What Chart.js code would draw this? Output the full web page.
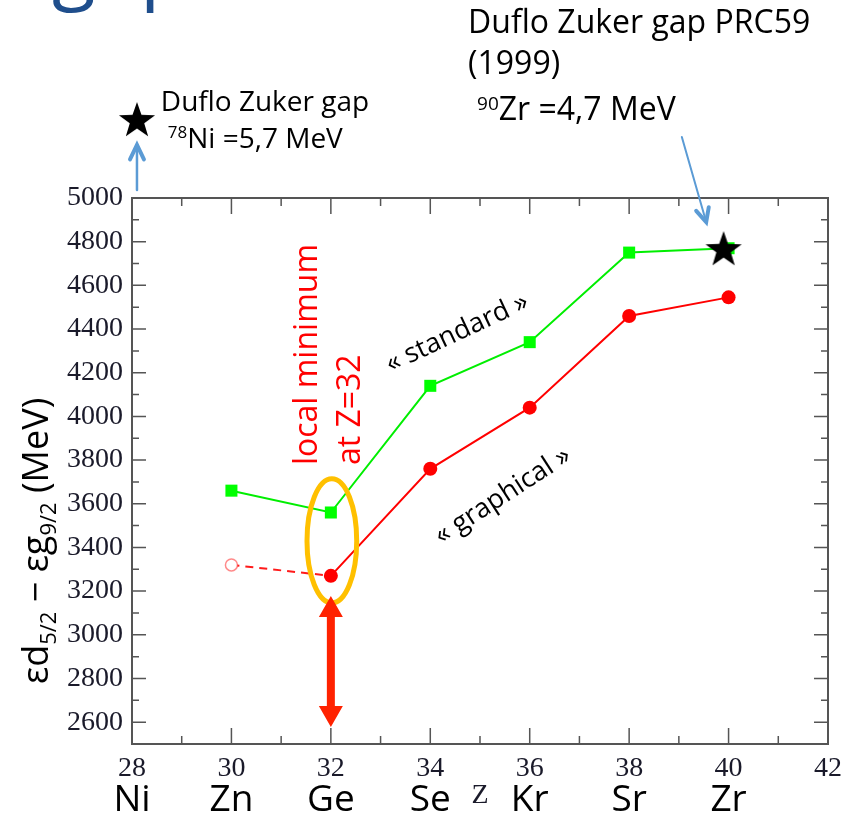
<!DOCTYPE html>
<html>
<head>
<meta charset="utf-8">
<script src="https://cdn.jsdelivr.net/npm/chart.js@4/dist/chart.umd.min.js"></script>
<style>
  html, body { margin: 0; padding: 0; background: #fff; overflow: hidden; }
  #wrap { width: 853px; height: 819px; position: relative; }
</style>
</head>
<body>
<div id="wrap"><canvas id="c" width="853" height="819"></canvas></div>
<script>
// εd5/2 − εg9/2 のギャップ — Z依存
// 横軸: 陽子数Z / 縦軸: ギャップ

const Z_VALUES  = [30, 32, 34, 36, 38, 40];
const STANDARD  = [3660, 3560, 4140, 4340, 4750, 4770];   // « standard » (緑)
const GRAPHICAL = [3320, 3270, 3760, 4040, 4460, 4545];   // « graphical » (赤), Z=30は外挿(白抜き)

// Duflo Zuker の星印 (Ni側は枠外)
const STAR_Z   = [28.1, 39.9];
const STAR_GAP = [5357, 4766];

// 軸の目盛り
const X_TICKS = [28, 30, 32, 34, 36, 38, 40, 42];
const X_MINOR = [29, 31, 33, 35, 37, 39, 41];
const Y_TICKS = [2600, 2800, 3000, 3200, 3400, 3600, 3800, 4000, 4200, 4400, 4600, 4800, 5000];
const Y_MINOR = [2700, 2900, 3100, 3300, 3500, 3700, 3900, 4100, 4300, 4500, 4700, 4900];

// 元素記号 (偶数Zの下に並べる)
const ELEMENT_Z = [28, 30, 32, 34, 36, 38, 40];
const ELEMENTS  = ['Ni', 'Zn', 'Ge', 'Se', 'Kr', 'Sr', 'Zr'];

const SANS  = '"Open Sans", "Noto Sans", sans-serif';
const SERIF = '"Liberation Serif", serif';

// 塗りつぶしの五芒星(Chart.jsの'star'は線なので自前の画像にする)
function makeStar(size) {
  const cv = document.createElement('canvas');
  cv.width = size; cv.height = size;
  const g = cv.getContext('2d');
  const R = size / 2, r = R * 0.4;
  g.beginPath();
  for (let i = 0; i < 10; i++) {
    const rad = (i % 2 === 0) ? R : r;
    const a = -Math.PI / 2 + i * Math.PI / 5;
    const px = R + rad * Math.cos(a), py = R + 1 + rad * Math.sin(a);
    if (i === 0) g.moveTo(px, py); else g.lineTo(px, py);
  }
  g.closePath();
  g.fillStyle = '#000';
  g.fill();
  return cv;
}
const STAR_IMG = makeStar(38);

// 矢印(線+V字の頭)
function vArrow(ctx, x0, y0, x1, y1, head, lw, hw, color) {
  const a = Math.atan2(y1 - y0, x1 - x0);
  ctx.strokeStyle = color;
  ctx.lineCap = 'round';
  ctx.lineWidth = lw;
  ctx.beginPath(); ctx.moveTo(x0, y0); ctx.lineTo(x1, y1); ctx.stroke();
  ctx.lineWidth = hw;
  ctx.beginPath();
  ctx.moveTo(x1 - head * Math.cos(a - 0.45), y1 - head * Math.sin(a - 0.45));
  ctx.lineTo(x1, y1);
  ctx.lineTo(x1 - head * Math.cos(a + 0.45), y1 - head * Math.sin(a + 0.45));
  ctx.stroke();
}

// 上付き・下付きを含むテキストを左から順に描く
function richText(ctx, parts, x, y) {
  for (const p of parts) {
    ctx.font = p.font;
    ctx.fillText(p.t, x, y + (p.dy || 0));
    x += ctx.measureText(p.t).width;
  }
  return x;
}
function richWidth(ctx, parts) {
  let w = 0;
  for (const p of parts) { ctx.font = p.font; w += ctx.measureText(p.t).width; }
  return w;
}

// ---------- 枠・内向き目盛り・注記 ----------
const decorPlugin = {
  id: 'decor',
  afterDatasetsDraw(chart) {
    const ctx = chart.ctx;
    const a = chart.chartArea;
    const xs = chart.scales.x, ys = chart.scales.y;
    const X = (v) => xs.getPixelForValue(v);
    const Y = (v) => ys.getPixelForValue(v);
    ctx.save();

    // 枠
    ctx.strokeStyle = '#555';
    ctx.lineWidth = 2;
    ctx.strokeRect(a.left, a.top, a.right - a.left, a.bottom - a.top);

    // 内向きの目盛り(上下左右)
    ctx.lineWidth = 1.5;
    ctx.beginPath();
    for (const v of X_TICKS) {
      const p = X(v);
      ctx.moveTo(p, a.bottom); ctx.lineTo(p, a.bottom - 16);
      ctx.moveTo(p, a.top); ctx.lineTo(p, a.top + 16);
    }
    for (const v of X_MINOR) {
      const p = X(v);
      ctx.moveTo(p, a.bottom); ctx.lineTo(p, a.bottom - 8);
      ctx.moveTo(p, a.top); ctx.lineTo(p, a.top + 8);
    }
    for (const v of Y_TICKS) {
      const p = Y(v);
      ctx.moveTo(a.left, p); ctx.lineTo(a.left + 14, p);
      ctx.moveTo(a.right, p); ctx.lineTo(a.right - 14, p);
    }
    for (const v of Y_MINOR) {
      const p = Y(v);
      ctx.moveTo(a.left, p); ctx.lineTo(a.left + 7, p);
      ctx.moveTo(a.right, p); ctx.lineTo(a.right - 7, p);
    }
    ctx.stroke();

    // 星印(枠外のNi側も描くため、点要素ではなくここで描く)
    STAR_Z.forEach((z, i) => {
      ctx.drawImage(STAR_IMG, X(z) - STAR_IMG.width / 2, Y(STAR_GAP[i]) - STAR_IMG.height / 2);
    });

    // 元素記号と軸名 Z
    ctx.fillStyle = '#000';
    ctx.textAlign = 'center';
    ctx.textBaseline = 'alphabetic';
    ctx.font = '37px ' + SANS;
    ELEMENTS.forEach((el, i) => ctx.fillText(el, X(ELEMENT_Z[i]), a.bottom + 67));
    ctx.font = '28px ' + SERIF;
    ctx.fillStyle = '#1a1a2a';
    ctx.fillText('Z', X(35.0), a.bottom + 59);

    // 縦軸名 (下付き文字つき、90°回転)
    const main = '36px ' + SANS, sub = '22px ' + SANS;
    const title = [
      { t: 'εd', font: main }, { t: '5/2', font: sub, dy: 8 },
      { t: ' − εg', font: main }, { t: '9/2', font: sub, dy: 8 },
      { t: ' (MeV)', font: main }
    ];
    ctx.save();
    ctx.translate(a.left - 84, Y(3430));
    ctx.rotate(-Math.PI / 2);
    ctx.textAlign = 'left';
    ctx.fillStyle = '#000';
    richText(ctx, title, -richWidth(ctx, title) / 2, 0);
    ctx.restore();

    // 上端に切れているスライド見出しの一部
    ctx.fillStyle = '#1f4e8c';
    ctx.textAlign = 'left';
    ctx.font = '80px ' + SANS;
    ctx.fillText('gap', 52, -6);

    // Duflo Zuker 注記 (Ni)
    ctx.fillStyle = '#000';
    ctx.font = '28px ' + SANS;
    ctx.fillText('Duflo Zuker gap', X(28.58), Y(5398));
    richText(ctx, [
      { t: '78', font: '17px ' + SANS, dy: -10 },
      { t: 'Ni =5,7 MeV', font: '28px ' + SANS }
    ], X(28.72), Y(5229));

    // Duflo Zuker 注記 (Zr)
    ctx.font = '32px ' + SANS;
    ctx.fillText('Duflo Zuker gap PRC59', X(34.76), Y(5755));
    ctx.fillText('(1999)', X(34.76), Y(5568));
    richText(ctx, [
      { t: '90', font: '19px ' + SANS, dy: -10 },
      { t: 'Zr =4,7 MeV', font: '32px ' + SANS }
    ], X(34.94), Y(5357));

    // 青い矢印
    vArrow(ctx, X(28.1), Y(5037), X(28.1), Y(5243), 16, 2.5, 4, '#5b9bd5');
    vArrow(ctx, X(39.06), Y(5279), X(39.55), Y(4890), 15, 2, 4, '#5b9bd5');

    // 系列名(斜め)
    ctx.fillStyle = '#000';
    ctx.font = '27px ' + SANS;
    ctx.textAlign = 'center';
    ctx.textBaseline = 'middle';
    ctx.save();
    ctx.translate(X(34.54), Y(4382)); ctx.rotate(-25 * Math.PI / 180);
    ctx.fillText('« standard »', 0, 0);
    ctx.restore();
    ctx.save();
    ctx.translate(X(35.46), Y(3636)); ctx.rotate(-33 * Math.PI / 180);
    ctx.fillText('« graphical »', 0, 0);
    ctx.restore();

    // 赤字: local minimum at Z=32
    ctx.fillStyle = '#ff0000';
    ctx.font = '32px ' + SANS;
    ctx.textAlign = 'left';
    ctx.textBaseline = 'alphabetic';
    for (const [z, txt] of [[31.72, 'local minimum'], [32.59, 'at Z=32']]) {
      ctx.save();
      ctx.translate(X(z), Y(3777)); ctx.rotate(-Math.PI / 2);
      ctx.fillText(txt, 0, 0);
      ctx.restore();
    }

    // Z=32 を囲む楕円
    const cx = X(32.02), cy = Y(3430);
    ctx.strokeStyle = '#ffc000';
    ctx.lineWidth = 5;
    ctx.beginPath();
    ctx.ellipse(cx, cy, X(32.52) - cx, Y(3430 - 284) - cy, 0, 0, Math.PI * 2);
    ctx.stroke();

    // 赤い両矢印
    const ax = X(32), top = Y(3178), bot = Y(2578);
    const hw = 12, hl = 21, sw = 4;
    ctx.fillStyle = '#ff2200';
    ctx.fillRect(ax - sw, top + hl - 1, sw * 2, bot - top - 2 * hl + 2);
    ctx.beginPath();
    ctx.moveTo(ax, top); ctx.lineTo(ax + hw, top + hl); ctx.lineTo(ax - hw, top + hl); ctx.closePath();
    ctx.moveTo(ax, bot); ctx.lineTo(ax + hw, bot - hl); ctx.lineTo(ax - hw, bot - hl); ctx.closePath();
    ctx.fill();

    ctx.restore();
  }
};

const pts = (zs, vs) => zs.map((z, i) => ({ x: z, y: vs[i] }));

new Chart(document.getElementById('c').getContext('2d'), {
  type: 'line',
  data: {
    datasets: [
      {
        label: 'standard',
        data: pts(Z_VALUES, STANDARD),
        borderColor: '#00ee00',
        borderWidth: 2,
        pointStyle: 'rect',
        pointRadius: 8.5,
        pointBackgroundColor: '#00ff00',
        pointBorderWidth: 0,
        tension: 0
      },
      {
        label: 'graphical',
        data: pts(Z_VALUES.slice(1), GRAPHICAL.slice(1)),
        borderColor: '#ff0000',
        borderWidth: 2,
        pointStyle: 'circle',
        pointRadius: 7,
        pointBackgroundColor: '#ff0000',
        pointBorderWidth: 0,
        tension: 0
      },
      {
        label: 'graphical (Z=30)',
        data: pts(Z_VALUES.slice(0, 2), GRAPHICAL.slice(0, 2)),
        borderColor: '#ff1a1a',
        borderWidth: 2,
        borderDash: [8, 6],
        pointStyle: 'circle',
        pointRadius: [6, 0],
        pointBackgroundColor: '#ffffff',
        pointBorderColor: 'rgba(255,60,60,0.6)',
        pointBorderWidth: 1.5,
        tension: 0
      }
    ]
  },
  plugins: [decorPlugin],
  options: {
    responsive: false,
    animation: false,
    events: [],
    layout: { padding: { top: 198, right: 25, left: 0, bottom: 0 } },
    plugins: { legend: { display: false }, tooltip: { enabled: false } },
    scales: {
      x: {
        type: 'linear',
        min: 28, max: 42,
        afterBuildTicks: (s) => { s.ticks = X_TICKS.map((v) => ({ value: v })); },
        afterFit: (s) => { s.height = 75; },
        grid: { display: false, drawTicks: false },
        border: { display: false },
        ticks: {
          font: { family: 'Liberation Serif', size: 28 },
          color: '#1a1a2a',
          padding: 8,
          maxRotation: 0,
          autoSkip: false,
          callback: (v) => String(v)
        }
      },
      y: {
        type: 'linear',
        min: 2500, max: 5000,
        afterBuildTicks: (s) => { s.ticks = Y_TICKS.map((v) => ({ value: v })); },
        afterFit: (s) => { s.width = 132; },
        grid: { display: false, drawTicks: false },
        border: { display: false },
        ticks: {
          font: { family: 'Liberation Serif', size: 28 },
          color: '#1a1a2a',
          padding: 9,
          autoSkip: false,
          callback: (v) => String(v)
        }
      }
    }
  }
});
</script>
</body>
</html>
